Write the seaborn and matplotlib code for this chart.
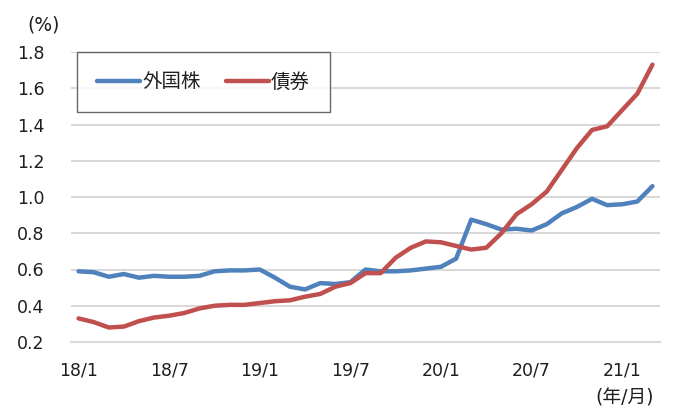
import matplotlib
matplotlib.use('Agg')
import matplotlib.pyplot as plt
import numpy as np
import pandas as pd
import seaborn as sns

# monthly series, 18/1 .. 21/3 (39 months), in %
months = [f'{y}/{m}' for y in (18, 19, 20, 21) for m in range(1, 13)][:39]
foreign_stock = [0.59, 0.585, 0.56, 0.575, 0.555, 0.565, 0.56, 0.56, 0.565, 0.59,
                 0.595, 0.595, 0.6, 0.555, 0.505, 0.49, 0.525, 0.52, 0.53, 0.6,
                 0.59, 0.59, 0.595, 0.605, 0.615, 0.66, 0.875, 0.85, 0.82, 0.825,
                 0.815, 0.85, 0.91, 0.945, 0.99, 0.955, 0.96, 0.975, 1.06]
bonds = [0.33, 0.31, 0.28, 0.285, 0.315, 0.335, 0.345, 0.36, 0.385, 0.40,
         0.405, 0.405, 0.415, 0.425, 0.43, 0.45, 0.465, 0.505, 0.525, 0.58,
         0.58, 0.665, 0.72, 0.755, 0.75, 0.73, 0.71, 0.72, 0.80, 0.905,
         0.96, 1.03, 1.15, 1.27, 1.37, 1.39, 1.48, 1.57, 1.73]
series_names = ['外国株', '債券']
tick_labels = ['18/1', '18/7', '19/1', '19/7', '20/1', '20/7', '21/1']
yticks = [0.2, 0.4, 0.6, 0.8, 1.0, 1.2, 1.4, 1.6, 1.8]

colors = ['#4F81BD', '#C0504D']
text_col = '#1f1f1f'
grid_col = '#D9D9D9'
fs = 12.5

df = pd.DataFrame({'idx': np.arange(len(months)),
                   series_names[0]: foreign_stock,
                   series_names[1]: bonds})
data = df.melt(id_vars='idx', var_name='series', value_name='rate')

sns.set_theme(style='white')
# wide Verdana-like latin, CJK falls back to Noto
plt.rcParams['font.family'] = ['DejaVu Sans', 'Noto Sans CJK JP']
plt.rcParams['font.size'] = fs

fig = plt.figure(figsize=(7, 4.2), dpi=100)
ax = fig.add_axes([71 / 700, 1 - 342 / 420, 589 / 700, 290 / 420])

sns.lineplot(data=data, x='idx', y='rate', hue='series', hue_order=series_names,
             palette=colors, linewidth=3.2, ax=ax, legend=False)

ax.set_xlim(-0.5, len(months) - 0.5)
ax.set_ylim(0.2, 1.8)
ax.set_xlabel('')
ax.set_ylabel('')

# labels at category centres, tick marks on category boundaries
label_pos = [months.index(t) for t in tick_labels]
ax.set_xticks(label_pos)
ax.set_xticklabels(tick_labels)
ax.set_xticks([p - 0.5 for p in label_pos], minor=True)
ax.tick_params(axis='x', which='major', length=0, pad=14, labelsize=fs,
               labelcolor=text_col)
ax.tick_params(axis='x', which='minor', direction='in', length=5,
               width=1.3, color=grid_col)

ax.set_yticks(yticks)
ax.set_yticklabels([f'{v:.1f}' for v in yticks])
ax.tick_params(axis='y', length=0, pad=19, labelsize=fs, labelcolor=text_col)

ax.grid(axis='y', color=grid_col, linewidth=1.5)
ax.set_axisbelow(True)
for s in ('left', 'right', 'top'):
    ax.spines[s].set_visible(False)
ax.spines['bottom'].set_color(grid_col)
ax.spines['bottom'].set_linewidth(1.5)

handles = [plt.Line2D([], [], color=c, linewidth=3.2) for c in colors]
leg = ax.legend(handles, series_names, ncol=2, loc='upper left',
                bbox_to_anchor=(77 / 700, 1 - 52 / 420),
                bbox_transform=fig.transFigure, borderaxespad=0,
                frameon=True, fancybox=False, borderpad=1.05,
                handlelength=2.2, handletextpad=0.1, columnspacing=1.3,
                fontsize=14)
leg.get_frame().set_edgecolor('#404040')
leg.get_frame().set_linewidth(1.0)
for t in leg.get_texts():
    t.set_color(text_col)

fig.text(44 / 700, 1 - 25 / 420, '(%)', ha='center', va='center',
         fontsize=13.5, color=text_col)
fig.text(625 / 700, 1 - 398 / 420, '(年/月)', ha='center', va='center',
         fontsize=13.5, color=text_col)

fig.savefig('out.png', dpi=100)
